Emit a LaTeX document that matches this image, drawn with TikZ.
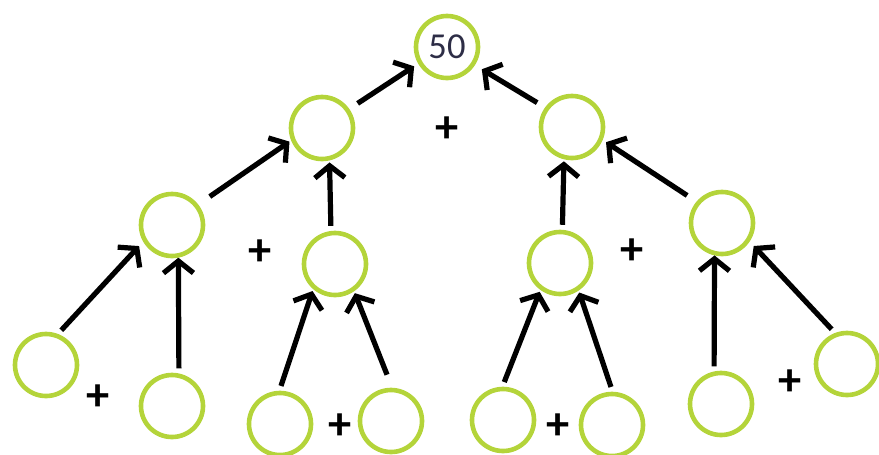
\documentclass[tikz,border=0pt]{standalone}
\usepackage{fontspec}
\setmainfont{Carlito}
\usetikzlibrary{arrows.meta}
\definecolor{ringgreen}{RGB}{180,212,58}
\definecolor{numgray}{RGB}{45,45,70}

\begin{document}
\begin{tikzpicture}[x=0.025cm,y=-0.025cm,>={Straight Barb[length=0.3cm,width=0.75cm]},
        sum/.style={draw=ringgreen,line width=0.115cm,circle,minimum size=1.55cm,inner sep=0pt},
        plus/.style={font=\fontsize{33}{33}\selectfont\bfseries,inner sep=0pt},
        link/.style={->,line width=0.13cm,shorten <=0.125cm,shorten >=0.05cm}]
        \useasboundingbox (0,0) rectangle (879,454);
        % root and inner sums
        \node[sum,text=numgray,font=\fontsize{26}{26}\selectfont] (top) at (447,47) {50};
        \node[sum] (l) at (322,128) {};
        \node[sum] (r) at (572,127) {};
        \node[sum] (ll) at (172,225) {};
        \node[sum] (lr) at (335,264) {};
        \node[sum] (rl) at (560,263) {};
        \node[sum] (rr) at (722,223) {};
        % leaves
        \node[sum] (lla) at (46,365) {};
        \node[sum] (llb) at (172,406) {};
        \node[sum] (lra) at (280,424) {};
        \node[sum] (lrb) at (391,421) {};
        \node[sum] (rla) at (503,420) {};
        \node[sum] (rlb) at (612,425) {};
        \node[sum] (rra) at (721,404) {};
        \node[sum] (rrb) at (847,364) {};
        % plus signs
        \node[plus] (p1) at (447,130) {+};
        \node[plus] (p2) at (260,253) {+};
        \node[plus] (p3) at (632,252) {+};
        \node[plus] (p4) at (98,398) {+};
        \node[plus] (p5) at (340,427) {+};
        \node[plus] (p6) at (558,427) {+};
        \node[plus] (p7) at (790,383) {+};
        % arrows
        \draw[link,shorten >=0.15cm] (lla.69) -- (ll.210);
        \draw[link,shorten >=0pt] (llb.78) -- (ll.281);
        \draw[link] (lra.91) -- (lr.229);
        \draw[link,shorten <=0.35cm] (lrb.88) -- (lr.305);
        \draw[link] (rla.91) -- (rl.234);
        \draw[link] (rlb.89) -- (rl.304);
        \draw[link,shorten >=0pt] (rra.102) -- (rr.257);
        \draw[link,shorten >=0.15cm] (rrb.111) -- (rr.326);
        \draw[link,shorten <=0.35cm] (ll.38) -- (l.202);
        \draw[link] (lr.97) -- (l.283);
        \draw[link] (rl.86) -- (r.256);
        \draw[link,shorten <=0.28cm,shorten >=0.1cm] (rr.140) -- (r.337);
        \draw[link,shorten <=0.25cm,shorten >=0.12cm] (l.35) -- (top.210);
        \draw[link,shorten <=0.23cm,shorten >=0.2cm] (r.144) -- (top.327);
\end{tikzpicture}
\end{document}
